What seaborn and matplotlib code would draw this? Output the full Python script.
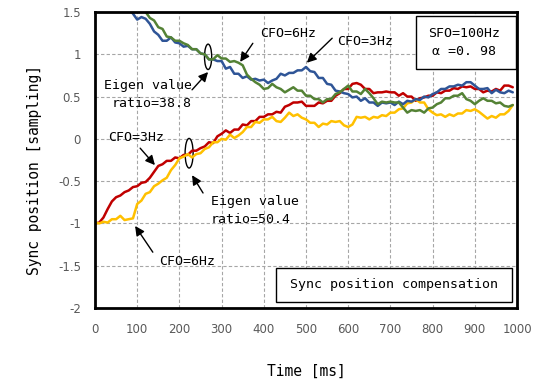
import numpy as np
import pandas as pd
import matplotlib
matplotlib.use("Agg")
import matplotlib.pyplot as plt
from matplotlib.patches import Ellipse, Rectangle
import seaborn as sns

# Time axis (ms), one sample every 10 ms
time_ms = list(range(0, 1000, 10))

# Upper pair: start above the plotted range and converge downward
cfo3_upper = [1.80, 1.77, 1.75, 1.71, 1.67, 1.63, 1.61, 1.56, 1.54, 1.48,
              1.41, 1.44, 1.42, 1.36, 1.27, 1.23, 1.16, 1.16, 1.20, 1.14,
              1.13, 1.09, 1.10, 1.06, 1.06, 1.01, 1.00, 0.94, 0.94, 0.92,
              0.92, 0.83, 0.85, 0.77, 0.77, 0.72, 0.74, 0.70, 0.71, 0.69,
              0.70, 0.66, 0.69, 0.71, 0.77, 0.75, 0.78, 0.78, 0.81, 0.81,
              0.85, 0.80, 0.79, 0.72, 0.72, 0.65, 0.64, 0.57, 0.56, 0.54,
              0.53, 0.49, 0.50, 0.45, 0.48, 0.43, 0.43, 0.39, 0.43, 0.42,
              0.43, 0.40, 0.44, 0.41, 0.45, 0.44, 0.47, 0.46, 0.50, 0.49,
              0.53, 0.55, 0.59, 0.59, 0.62, 0.62, 0.64, 0.63, 0.67, 0.67,
              0.63, 0.59, 0.59, 0.60, 0.54, 0.58, 0.55, 0.54, 0.57, 0.55]

cfo6_upper = [1.95, 1.92, 1.91, 1.85, 1.83, 1.77, 1.76, 1.69, 1.67, 1.61,
              1.59, 1.53, 1.50, 1.43, 1.40, 1.32, 1.30, 1.21, 1.20, 1.16,
              1.16, 1.13, 1.11, 1.06, 1.06, 1.01, 1.00, 0.94, 0.94, 0.99,
              0.95, 0.95, 0.91, 0.92, 0.90, 0.87, 0.76, 0.71, 0.67, 0.64,
              0.59, 0.60, 0.65, 0.61, 0.59, 0.55, 0.58, 0.61, 0.57, 0.57,
              0.51, 0.51, 0.47, 0.47, 0.43, 0.47, 0.47, 0.53, 0.55, 0.59,
              0.63, 0.56, 0.56, 0.53, 0.59, 0.54, 0.48, 0.41, 0.44, 0.43,
              0.44, 0.43, 0.43, 0.37, 0.31, 0.34, 0.33, 0.34, 0.31, 0.36,
              0.37, 0.41, 0.43, 0.48, 0.48, 0.51, 0.51, 0.54, 0.47, 0.45,
              0.41, 0.45, 0.48, 0.45, 0.45, 0.42, 0.43, 0.39, 0.38, 0.40]

# Lower pair: start at -1 sample and rise
cfo3_lower = [-1.00, -0.99, -0.93, -0.83, -0.74, -0.69, -0.67, -0.63, -0.61, -0.57,
              -0.56, -0.52, -0.51, -0.46, -0.39, -0.32, -0.30, -0.26, -0.26, -0.22,
              -0.23, -0.19, -0.19, -0.14, -0.14, -0.11, -0.09, -0.04, -0.05, 0.03,
              0.06, 0.10, 0.07, 0.11, 0.11, 0.17, 0.16, 0.21, 0.21, 0.26,
              0.26, 0.29, 0.29, 0.32, 0.31, 0.38, 0.40, 0.43, 0.43, 0.44,
              0.39, 0.39, 0.39, 0.43, 0.42, 0.45, 0.45, 0.51, 0.54, 0.59,
              0.59, 0.65, 0.66, 0.64, 0.59, 0.59, 0.54, 0.55, 0.55, 0.56,
              0.55, 0.55, 0.51, 0.54, 0.50, 0.50, 0.45, 0.48, 0.49, 0.51,
              0.51, 0.55, 0.54, 0.57, 0.57, 0.60, 0.59, 0.62, 0.61, 0.62,
              0.59, 0.59, 0.55, 0.57, 0.56, 0.59, 0.57, 0.63, 0.63, 0.61]

cfo6_lower = [-0.99, -1.00, -0.98, -0.99, -0.95, -0.95, -0.91, -0.96, -0.95, -0.94,
              -0.77, -0.73, -0.65, -0.63, -0.56, -0.53, -0.49, -0.46, -0.37, -0.31,
              -0.23, -0.21, -0.18, -0.22, -0.18, -0.17, -0.12, -0.10, -0.04, -0.04,
              0.00, -0.01, 0.05, 0.01, 0.04, 0.08, 0.14, 0.14, 0.20, 0.19,
              0.23, 0.23, 0.26, 0.21, 0.20, 0.25, 0.31, 0.27, 0.29, 0.25,
              0.23, 0.19, 0.19, 0.14, 0.18, 0.17, 0.21, 0.20, 0.21, 0.16,
              0.14, 0.17, 0.26, 0.25, 0.26, 0.23, 0.26, 0.25, 0.28, 0.27,
              0.31, 0.31, 0.35, 0.36, 0.42, 0.43, 0.47, 0.43, 0.43, 0.35,
              0.31, 0.28, 0.29, 0.26, 0.29, 0.27, 0.30, 0.30, 0.34, 0.33,
              0.35, 0.32, 0.28, 0.24, 0.27, 0.25, 0.29, 0.29, 0.33, 0.40]

series_names = ["CFO=3Hz (upper)", "CFO=6Hz (upper)", "CFO=3Hz (lower)", "CFO=6Hz (lower)"]
series_values = [cfo3_upper, cfo6_upper, cfo3_lower, cfo6_lower]
colors = ["#2F5597", "#548235", "#C00000", "#FFC000"]

x_ticks = list(range(0, 1001, 100))
y_ticks = [-2, -1.5, -1, -0.5, 0, 0.5, 1, 1.5]
y_tick_labels = ["-2", "-1.5", "-1", "-0.5", "0", "0.5", "1", "1.5"]

df = pd.concat(
    [pd.DataFrame({"t": time_ms, "v": vals, "series": name})
     for name, vals in zip(series_names, series_values)],
    ignore_index=True)

sns.set_theme(style="white")
plt.rcParams["font.family"] = ["DejaVu Sans"]
mono = ["DejaVu Sans Mono", "DejaVu Sans"]

fig = plt.figure(figsize=(5.43, 3.83), dpi=100)
ax = fig.add_axes([95 / 543, 1 - 308 / 383, 422 / 543, 296 / 383])

draw_order = ["CFO=3Hz (lower)", "CFO=6Hz (lower)", "CFO=3Hz (upper)", "CFO=6Hz (upper)"]
sns.lineplot(data=df, x="t", y="v", hue="series", hue_order=draw_order,
             palette=dict(zip(series_names, colors)), linewidth=1.8,
             legend=False, ax=ax, estimator=None, sort=False)

ax.set_xlim(0, 1000)
ax.set_ylim(-2, 1.5)
ax.set_xticks(x_ticks)
ax.set_yticks(y_ticks)
ax.set_yticklabels(y_tick_labels)
ax.tick_params(axis="both", length=0, labelsize=8.5, colors="#595959")
ax.tick_params(axis="x", pad=11)
ax.tick_params(axis="y", pad=10)
ax.grid(True, color="#A6A6A6", linestyle=(0, (3, 2)), linewidth=0.8)
for sp in ax.spines.values():
    sp.set_color("black")
    sp.set_linewidth(2.0)

ax.set_xlabel("Time [ms]", family=mono, fontsize=10.5, color="black")
ax.set_ylabel("Sync position [sampling]", family=mono, fontsize=10.5, color="black")
ax.xaxis.set_label_coords(0.5, -0.19)
ax.yaxis.set_label_coords(-0.125, 0.466)

arrow = dict(arrowstyle="-|>", color="black", lw=1.0, mutation_scale=14,
             shrinkA=0, shrinkB=0)
txt = dict(family=mono, fontsize=9.5, color="black", va="center")

ax.annotate("", xy=(344, 0.91), xytext=(374, 1.13), arrowprops=arrow)
ax.text(391, 1.24, "CFO=6Hz", ha="left", **txt)
ax.annotate("", xy=(502, 0.90), xytext=(562, 1.19), arrowprops=arrow)
ax.text(573, 1.15, "CFO=3Hz", ha="left", **txt)

ax.add_patch(Ellipse((268, 0.97), 17, 0.30, fill=False, edgecolor="black", lw=1.0))
ax.annotate("", xy=(268, 0.79), xytext=(230, 0.58), arrowprops=arrow)
ax.text(230, 0.52, "Eigen value\nratio=38.8", ha="right", multialignment="right",
        linespacing=1.5, **txt)

ax.annotate("", xy=(142, -0.31), xytext=(107, -0.11), arrowprops=arrow)
ax.text(31, 0.02, "CFO=3Hz", ha="left", **txt)

ax.add_patch(Ellipse((223, -0.17), 19, 0.35, fill=False, edgecolor="black", lw=1.0))
ax.annotate("", xy=(230, -0.43), xytext=(256, -0.64), arrowprops=arrow)
ax.text(275, -0.85, "Eigen value\nratio=50.4", ha="left", linespacing=1.5, **txt)

ax.annotate("", xy=(95, -1.03), xytext=(137, -1.34), arrowprops=arrow)
ax.text(152, -1.45, "CFO=6Hz", ha="left", **txt)

# Parameter box (upper right)
ax.add_patch(Rectangle((0.761, 0.807), 0.237, 0.179, transform=ax.transAxes,
                       facecolor="white", edgecolor="black", lw=1.0, zorder=5))
ax.text(0.789, 0.929, "SFO=100Hz", transform=ax.transAxes, ha="left", zorder=6, **txt)
ax.text(0.799, 0.865, "α =0. 98", transform=ax.transAxes, ha="left", zorder=6, **txt)

# Method box (lower right)
ax.add_patch(Rectangle((0.429, 0.020), 0.559, 0.115, transform=ax.transAxes,
                       facecolor="white", edgecolor="black", lw=1.0, zorder=5))
ax.text(0.709, 0.078, "Sync position compensation", transform=ax.transAxes,
        ha="center", zorder=6, **txt)

fig.savefig("out.png", dpi=100)
